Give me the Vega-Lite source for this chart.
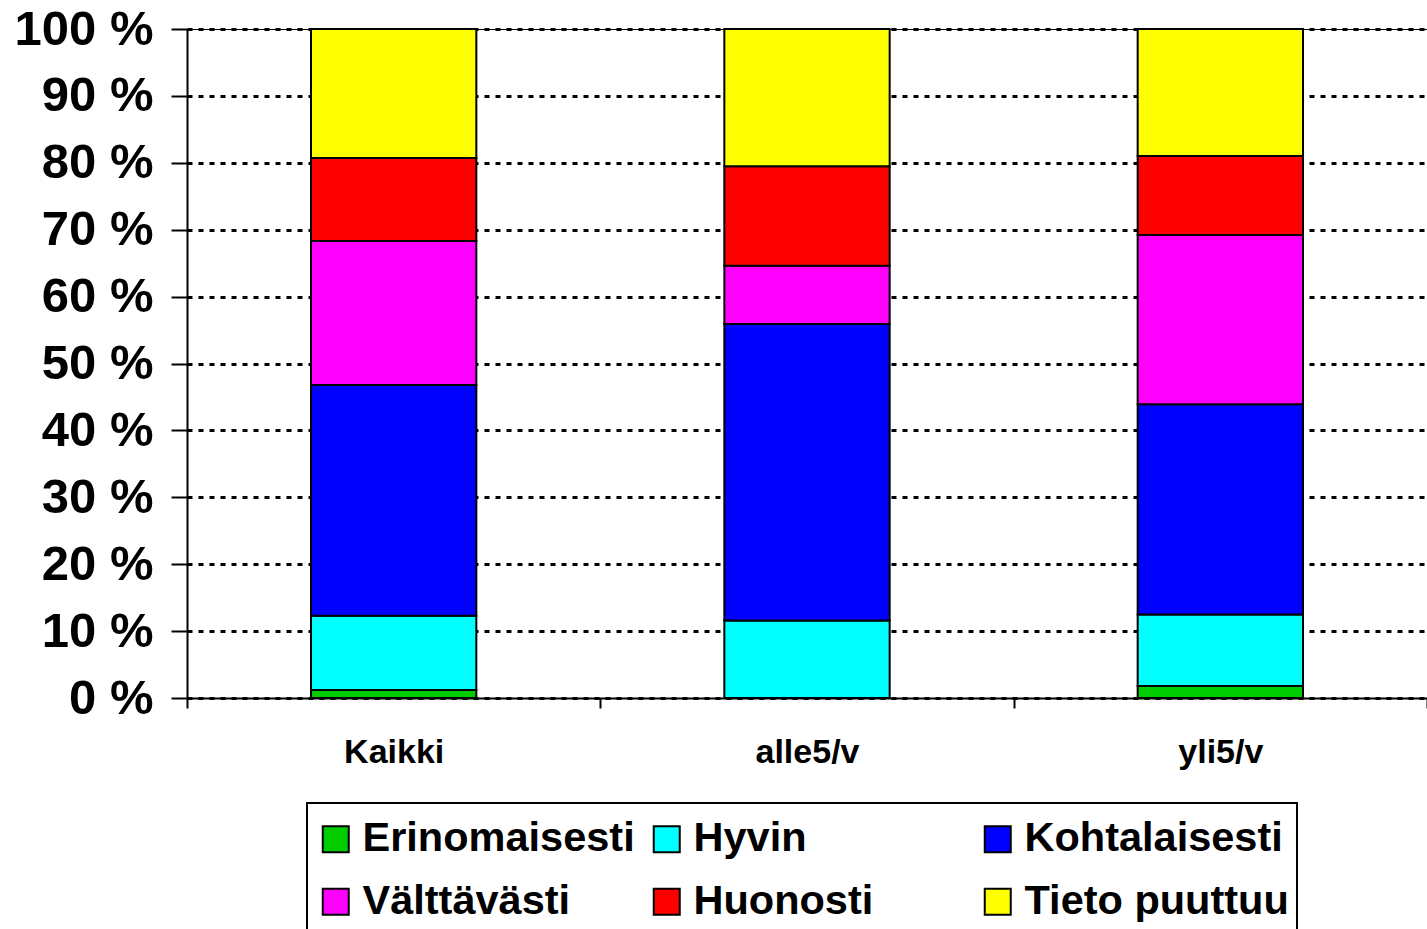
{
  "$schema": "https://vega.github.io/schema/vega-lite/v6.json",
  "width": 1240,
  "height": 669,
  "autosize": {"type": "none"},
  "padding": {"left": 187, "top": 29, "right": 0, "bottom": 231},
  "background": "white",
  "config": {
    "view": {"stroke": "black", "strokeWidth": 1},
    "font": "Liberation Sans"
  },
  "data": {
    "values": [
      {"group": "Kaikki", "cat": "Erinomaisesti", "o": 1, "v": 1.2},
      {"group": "Kaikki", "cat": "Hyvin", "o": 2, "v": 11.1},
      {"group": "Kaikki", "cat": "Kohtalaisesti", "o": 3, "v": 34.5},
      {"group": "Kaikki", "cat": "Välttävästi", "o": 4, "v": 21.5},
      {"group": "Kaikki", "cat": "Huonosti", "o": 5, "v": 12.4},
      {"group": "Kaikki", "cat": "Tieto puuttuu", "o": 6, "v": 19.3},
      {"group": "alle5/v", "cat": "Erinomaisesti", "o": 1, "v": 0},
      {"group": "alle5/v", "cat": "Hyvin", "o": 2, "v": 11.6},
      {"group": "alle5/v", "cat": "Kohtalaisesti", "o": 3, "v": 44.3},
      {"group": "alle5/v", "cat": "Välttävästi", "o": 4, "v": 8.7},
      {"group": "alle5/v", "cat": "Huonosti", "o": 5, "v": 14.9},
      {"group": "alle5/v", "cat": "Tieto puuttuu", "o": 6, "v": 20.5},
      {"group": "yli5/v", "cat": "Erinomaisesti", "o": 1, "v": 1.8},
      {"group": "yli5/v", "cat": "Hyvin", "o": 2, "v": 10.7},
      {"group": "yli5/v", "cat": "Kohtalaisesti", "o": 3, "v": 31.4},
      {"group": "yli5/v", "cat": "Välttävästi", "o": 4, "v": 25.3},
      {"group": "yli5/v", "cat": "Huonosti", "o": 5, "v": 11.8},
      {"group": "yli5/v", "cat": "Tieto puuttuu", "o": 6, "v": 19.0}
    ]
  },
  "mark": {"type": "bar", "width": {"band": 0.4}, "stroke": "black", "strokeWidth": 2},
  "encoding": {
    "x": {
      "field": "group",
      "type": "nominal",
      "sort": ["Kaikki", "alle5/v", "yli5/v"],
      "scale": {"paddingInner": 0, "paddingOuter": 0},
      "axis": {
        "title": null,
        "labelAngle": 0,
        "tickBand": "extent",
        "domainColor": "black",
        "domainWidth": 2,
        "tickColor": "black",
        "tickWidth": 2,
        "tickSize": 10,
        "labelFont": "Liberation Sans",
        "labelFontSize": 34,
        "labelFontWeight": "bold",
        "labelColor": "black",
        "labelPadding": 27
      }
    },
    "y": {
      "field": "v",
      "type": "quantitative",
      "stack": "zero",
      "scale": {"domain": [0, 100], "nice": false},
      "axis": {
        "title": null,
        "values": [0, 10, 20, 30, 40, 50, 60, 70, 80, 90, 100],
        "labelExpr": "datum.value + ' %'",
        "labelFont": "Liberation Sans",
        "labelFontSize": 49,
        "labelFontWeight": "bold",
        "labelColor": "black",
        "labelPadding": 18,
        "domainColor": "black",
        "domainWidth": 2,
        "tickColor": "black",
        "tickWidth": 2,
        "tickSize": 16,
        "grid": true,
        "gridColor": "black",
        "gridWidth": 3,
        "gridDash": [5, 6],
        "gridOpacity": 1
      }
    },
    "color": {
      "field": "cat",
      "type": "nominal",
      "sort": ["Erinomaisesti", "Hyvin", "Kohtalaisesti", "Välttävästi", "Huonosti", "Tieto puuttuu"],
      "scale": {
        "domain": ["Erinomaisesti", "Hyvin", "Kohtalaisesti", "Välttävästi", "Huonosti", "Tieto puuttuu"],
        "range": ["#00CC00", "#00FFFF", "#0000FF", "#FF00FF", "#FF0000", "#FFFF00"]
      },
      "legend": {
        "title": " ",
        "titleFontSize": 1,
        "titlePadding": 6,
        "orient": "none",
        "legendX": 120,
        "legendY": 774,
        "direction": "horizontal",
        "columns": 3,
        "gridAlign": "all",
        "columnPadding": 11,
        "rowPadding": 20,
        "padding": 8,
        "strokeColor": "black",
        "fillColor": "white",
        "symbolType": "square",
        "symbolSize": 676,
        "symbolStrokeColor": "black",
        "symbolStrokeWidth": 2,
        "symbolOpacity": 1,
        "labelOffset": 6,
        "labelFont": "Liberation Sans",
        "labelFontSize": 41.5,
        "labelFontWeight": "bold",
        "labelColor": "black",
        "labelLimit": 400,
        "encode": {"legend": {"update": {"strokeWidth": {"value": 2}}}}
      }
    },
    "order": {"field": "o", "type": "quantitative"}
  }
}
